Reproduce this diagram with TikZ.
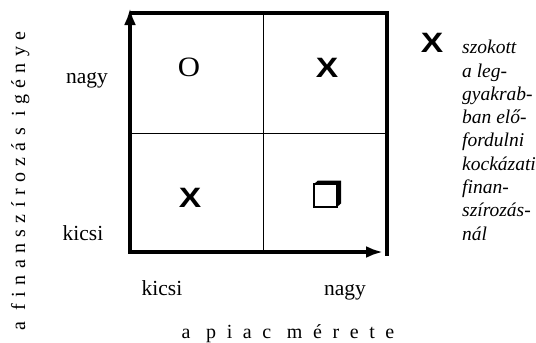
\documentclass[tikz,border=0pt]{standalone}
\usepackage{fontspec}
\setmainfont{Liberation Serif}
\setsansfont{Liberation Sans}
\usetikzlibrary{positioning,arrows.meta}
\tikzset{>={Latex[length=17pt,width=12pt]}}
\newcommand{\crossmark}{\scalebox{1.2}[1]{X}}

\begin{document}
\begin{tikzpicture}[x=1pt, y=-1pt,
  axis/.style={line width=3.5pt},
  grid/.style={line width=0.8pt},
  val/.style={font=\fontsize{21.5}{22}\selectfont, anchor=base, inner sep=0pt},
  cellmark/.style={font=\sffamily\bfseries\fontsize{28}{28}\selectfont},
  legend/.style={font=\itshape\fontsize{19.5}{23.3}\selectfont, align=left, anchor=north west, inner sep=0pt},
  title/.style={font=\fontsize{20}{20}\selectfont\addfontfeatures{LetterSpace=53}, anchor=base, inner sep=0pt}]
\useasboundingbox (0,0) rectangle (536,343);
\coordinate (bl) at (130,252);
\coordinate (tl) at (130,13);
\coordinate (tr) at (387,13);
\coordinate (br) at (387,256);
\coordinate (mt) at (263,13);
\coordinate (mb) at (263,252);
\coordinate (ml) at (130,133);
\coordinate (mr) at (387,133);
\draw[grid] (mt) -- (mb);
\draw[grid] (ml) -- (mr);
\draw[axis] (tl) -- (tr) -- (br);
\draw[axis, ->] (bl) -- ([yshift=5pt]tl);
\draw[axis, ->] ([xshift=-1.7pt]bl) -- ([xshift=-4pt]bl -| br);
% cell marks
\node[font=\fontsize{28}{28}\selectfont] (o) at (189,67) {\scalebox{1.1}[1]{O}};
\node[cellmark] (x1) at (327,68) {\crossmark};
\node[cellmark] (x2) at (190,198) {\crossmark};
\draw[line width=1.2pt] (314,184) rectangle (337,207);
\fill (314,184) -- (318,180.5) -- (341,180.5) -- (341,203.5) -- (337,207) -- (337,184) -- cycle;
% axis values
\node[val] (ny) at (87,83) {nagy};
\node[val] (ky) at (83,240) {kicsi};
\node[val] (kx) at (162,295) {kicsi};
\node[val] (nx) at (345,295) {nagy};
\node[title] (tx) at (288,338) {a piac mérete};
\node[title, rotate=90, font=\fontsize{20}{20}\selectfont\addfontfeatures{LetterSpace=32}] (ty) at (25,181) {a finanszírozás igénye};
% legend
\node[cellmark] (xl) at (432,43) {\crossmark};
\node[legend] (lg) at (462,40) {szokott\\a leg-\\gyakrab-\\ban elő-\\fordulni\\kockázati\\finan-\\szírozás-\\nál};
\end{tikzpicture}
\end{document}
